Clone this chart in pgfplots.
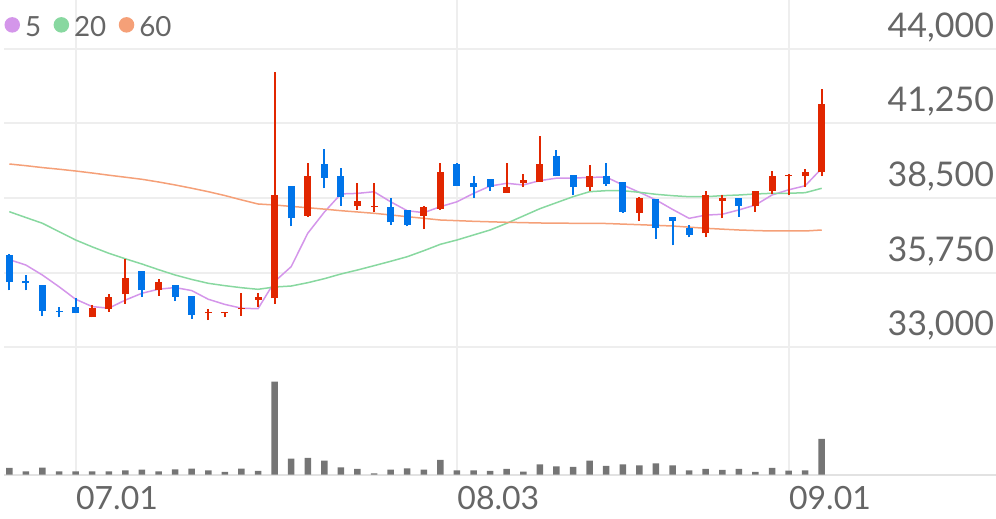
\documentclass[border=0pt]{standalone}
\usepackage{fontspec}
\setmainfont{Lato}
\usepackage{pgfplots}
\usepackage{pgfplotstable}
\pgfplotsset{compat=1.18}

\definecolor{upc}{RGB}{225,38,0}
\definecolor{dnc}{RGB}{0,116,233}
\definecolor{volc}{RGB}{117,117,117}
\definecolor{maA}{RGB}{212,150,234}
\definecolor{maB}{RGB}{136,216,160}
\definecolor{maC}{RGB}{245,160,120}
\definecolor{gridc}{RGB}{238,238,238}
\definecolor{basec}{RGB}{226,226,226}
\definecolor{txt}{RGB}{102,102,102}

% rising days: index, open, high, low, close
\pgfplotstableread{
i  O     H     L     C
5  34100 34550 34100 34450
6  34400 34950 34300 34850
7  34950 36250 34600 35550
9  35100 35500 34900 35400
12 34250 34400 34000 34300
13 34250 34300 34100 34300
14 34400 35000 34150 34450
15 34750 35000 34500 34850
16 34800 43150 34600 38600
18 37850 39800 37800 39300
21 38200 39050 38050 38400
22 38150 39050 38000 38200
25 37850 38200 37350 38150
26 38100 39800 38050 39450
30 38700 39800 38700 38900
31 39050 39400 38900 39150
32 39100 40800 39100 39750
35 38900 39700 38750 39300
38 37950 38550 37650 38500
42 37200 38750 37050 38600
43 38400 38600 37750 38500
45 38200 38750 38000 38750
46 38750 39500 38650 39300
47 39300 39400 38600 39350
48 39300 39550 38900 39450
49 39450 42500 39300 41950
}\upT

% falling days
\pgfplotstableread{
i  O     H     L     C
0  36400 36450 35100 35400
1  35450 35650 35100 35350
2  35300 35300 34150 34350
3  34350 34500 34100 34300
4  34500 34800 34250 34250
8  35800 35800 34850 35100
10 35300 35300 34700 34850
11 34900 34900 34050 34200
17 38950 38950 37450 37750
19 39750 40300 38850 39250
20 39300 39600 38200 38550
23 38150 38500 37500 37600
24 38050 38050 37450 37500
27 39750 39800 38950 38950
28 39050 39300 38500 38900
29 39200 39200 38750 38900
33 40050 40250 39300 39300
34 39350 39350 38600 38900
36 39300 39800 38950 39000
37 39100 39100 37950 38000
39 38450 38450 37000 37400
40 37800 37800 36750 37650
41 37400 37500 37050 37150
44 38500 38500 37800 38200
}\dnT

% moving averages: index, 5, 20, 60
\pgfplotstableread{
i  a     b     c
0  36230 37995 39752
1  36030 37780 39690
2  35660 37568 39620
3  35230 37260 39560
4  34770 36953 39494
5  34500 36700 39420
6  34440 36463 39340
7  34740 36260 39265
8  34990 36068 39189
9  35140 35860 39090
10 35200 35663 38980
11 35090 35500 38860
12 34770 35357 38732
13 34580 35270 38590
14 34440 35195 38430
15 34420 35136 38279
16 35420 35221 38242
17 35970 35257 38190
18 37200 35379 38142
19 37980 35527 38090
20 38650 35700 38032
21 38670 35847 37985
22 38730 36006 37936
23 38360 36168 37875
24 38030 36337 37811
25 37960 36558 37750
26 38180 36794 37689
27 38360 36953 37665
28 38670 37137 37641
29 38940 37321 37623
30 39040 37568 37605
31 38980 37837 37592
32 39140 38106 37579
33 39230 38327 37573
34 39230 38548 37568
35 39260 38732 37564
36 39270 38769 37560
37 38980 38769 37538
38 38710 38710 37516
39 38430 38636 37492
40 38080 38585 37468
41 37750 38548 37426
42 37870 38548 37384
43 37900 38585 37352
44 38060 38610 37321
45 38240 38647 37300
46 38610 38673 37284
47 38800 38673 37284
48 38950 38695 37284
49 39590 38857 37321
}\maT

% volume
\pgfplotstableread{
i  v
0  6.7
1  3.3
2  7.0
3  3.3
4  3.3
5  3.3
6  3.3
7  4.3
8  5.0
9  3.3
10 5.3
11 6.0
12 4.3
13 2.7
14 6.0
15 3.7
16 93.0
17 16.0
18 16.7
19 14.0
20 7.3
21 5.7
22 1.3
23 5.0
24 6.3
25 5.0
26 14.7
27 4.3
28 4.3
29 3.7
30 5.7
31 3.0
32 10.3
33 8.3
34 7.7
35 14.0
36 8.7
37 10.3
38 9.3
39 11.3
40 9.3
41 4.3
42 5.7
43 4.7
44 5.7
45 2.7
46 6.7
47 4.0
48 4.3
49 35.7
}\volT

\begin{document}
\begin{tikzpicture}
\useasboundingbox (0,0) rectangle (398.4pt,207.6pt);

\begin{axis}[
  at={(1.6pt,68.68pt)}, anchor=south west, scale only axis,
  width=396.8pt, height=138.92pt,
  xmin=-0.32, xmax=59.51, ymin=33000, ymax=45794,
  axis line style={draw=none}, tick style={draw=none},
  xtick={4,27,47}, xticklabels={},
  ytick={33000,35750,38500,41250,44000},
  scaled y ticks=false,
  yticklabel pos=right,
  /pgf/number format/fixed,
  /pgf/number format/1000 sep={,},
  /pgf/number format/assume math mode=true,
  yticklabel style={anchor=south east, inner sep=0pt, xshift=-0.6pt, yshift=2.5pt,
    font=\fontsize{13.6}{14}\selectfont, text=txt},
  grid=major, grid style={gridc, line width=0.8pt},
  legend columns=-1,
  legend style={at={(0,0.919)}, anchor=west, draw=none, fill=none, inner sep=0pt,
    font=\fontsize{11.1}{12}\selectfont, text=txt,
    /tikz/every even column/.append style={column sep=3pt}},
]
\addplot[color=maA, line width=0.6pt,
  legend image code/.code={\fill (2.8pt,1.3pt) circle (2.8pt);}]
  table[x=i, y=a] \maT;
\addlegendentry{5}
\addplot[color=maB, line width=0.6pt,
  legend image code/.code={\fill (2.8pt,1.3pt) circle (2.8pt);}]
  table[x=i, y=b] \maT;
\addlegendentry{20}
\addplot[color=maC, line width=0.6pt,
  legend image code/.code={\fill (2.8pt,1.3pt) circle (2.8pt);}]
  table[x=i, y=c] \maT;
\addlegendentry{60}

% wicks
\addplot[draw=none, mark=none, forget plot,
  error bars/.cd, y dir=plus, y explicit, error mark=none,
  error bar style={draw=upc, line width=0.8pt}]
  table[x=i, y=L, y error plus expr=\thisrow{H}-\thisrow{L}] \upT;
\addplot[draw=none, mark=none, forget plot,
  error bars/.cd, y dir=plus, y explicit, error mark=none,
  error bar style={draw=dnc, line width=0.8pt}]
  table[x=i, y=L, y error plus expr=\thisrow{H}-\thisrow{L}] \dnT;
% bodies
\addplot[draw=none, mark=none, forget plot,
  error bars/.cd, y dir=plus, y explicit, error mark=none,
  error bar style={draw=upc, line width=2.8pt}]
  table[x=i, y=O, y error plus expr=\thisrow{C}-\thisrow{O}] \upT;
\addplot[draw=none, mark=none, forget plot,
  error bars/.cd, y dir=plus, y explicit, error mark=none,
  error bar style={draw=dnc, line width=2.8pt}]
  table[x=i, y=C, y error plus expr=\thisrow{O}-\thisrow{C}] \dnT;
\end{axis}

\begin{axis}[
  at={(1.6pt,17.72pt)}, anchor=south west, scale only axis,
  width=396.8pt, height=50.96pt,
  xmin=-0.32, xmax=59.51, ymin=0, ymax=127.4,
  axis y line=none, axis x line*=bottom,
  x axis line style={draw=basec, line width=0.8pt, -},
  tick style={draw=none},
  xtick={4,27,47}, xticklabels={07.01,08.03,09.01},
  xticklabel style={anchor=north west, inner sep=0pt, yshift=-4.4pt,
    font=\fontsize{12.8}{13}\selectfont, text=txt},
  xmajorgrids, grid style={gridc, line width=0.8pt},
]
\addplot[ybar, bar width=2.6pt, fill=volc, draw=none] table[x=i, y=v] \volT;
\end{axis}
\end{tikzpicture}
\end{document}
